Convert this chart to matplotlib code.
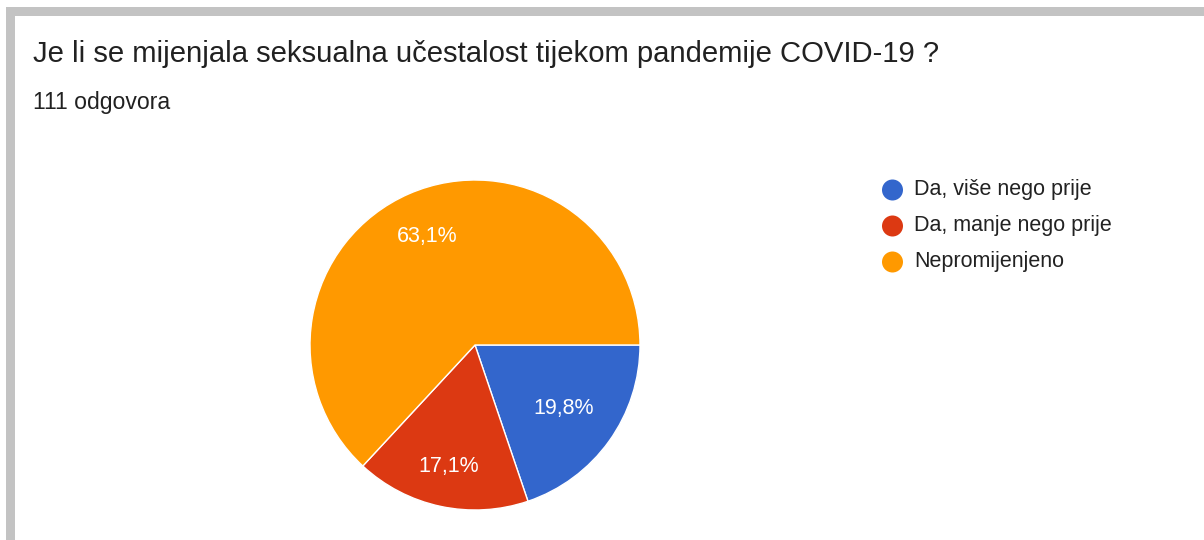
import matplotlib
matplotlib.use("Agg")
import numpy as np
import matplotlib.pyplot as plt
from matplotlib.patches import Rectangle, Circle

title = "Je li se mijenjala seksualna učestalost tijekom pandemije COVID-19 ?"
subtitle = "111 odgovora"
categories = ["Da, više nego prije", "Da, manje nego prije", "Nepromijenjeno"]
values = [19.8, 17.1, 63.1]
colors = ["#3366cc", "#dc3912", "#ff9900"]

plt.rcParams['font.family'] = ['Liberation Sans', 'DejaVu Sans']

W, H = 1204, 540
fig = plt.figure(figsize=(W / 100, H / 100), dpi=100)
ax = fig.add_axes([0, 0, 1, 1])
ax.set_xlim(0, W)
ax.set_ylim(H, 0)
ax.axis('off')

# Gray frame (top and left)
ax.add_patch(Rectangle((6, 7), W, 9, color="#c3c3c3", lw=0))
ax.add_patch(Rectangle((6, 7), 9, H, color="#c3c3c3", lw=0))

ax.text(33, 62, title, fontsize=21.1, color="#212121", va='baseline', ha='left')
ax.text(33, 109, subtitle, fontsize=16.6, color="#212121", va='baseline', ha='left')

# Pie in a separate axes with y up
pax = fig.add_axes([0, 0, 1, 1])
cx, cy, r = 475, H - 345, 165
wedges, texts, autotexts = pax.pie(
    values, colors=colors, startangle=0, counterclock=False,
    center=(cx, cy), radius=r, frame=True,
    wedgeprops=dict(edgecolor='white', linewidth=1),
    autopct=lambda p: f"{p:.1f}%".replace('.', ','), pctdistance=0.7,
    textprops=dict(color='white', fontsize=15.5))
label_dist = [0.66, 0.75, 0.72]
for w, t, d in zip(wedges, autotexts, label_dist):
    ang = np.deg2rad((w.theta1 + w.theta2) / 2)
    t.set_position((cx + d * r * np.cos(ang), cy + d * r * np.sin(ang)))
pax.set_xlim(0, W)
pax.set_ylim(0, H)
pax.set_aspect('auto')
pax.axis('off')

# Legend
for i, (lab, col) in enumerate(zip(categories, colors)):
    y = 190 + 36 * i
    ax.add_patch(Circle((892.5, y), 10.5, color=col, lw=0))
    ax.text(914, y, lab, fontsize=15.5, color="#222222", va='center', ha='left')

fig.savefig("out.png", dpi=100)
